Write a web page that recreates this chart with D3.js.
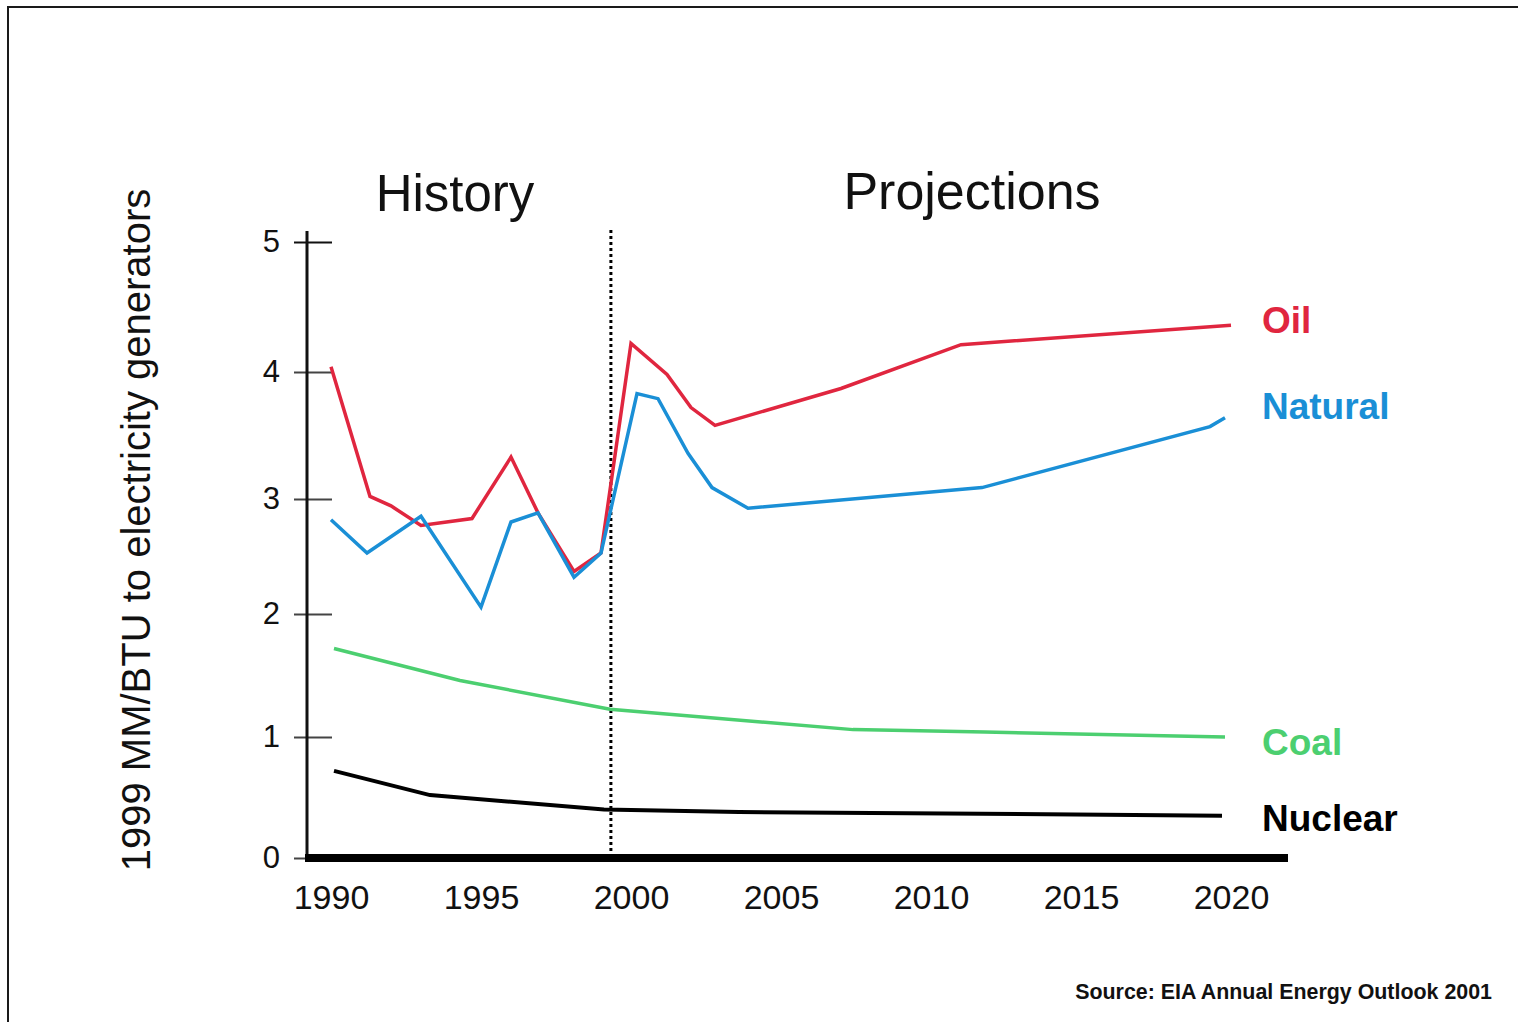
<!DOCTYPE html>
<html>
<head>
<meta charset="utf-8">
<script src="https://cdn.jsdelivr.net/npm/d3@7"></script>
<style>
  html, body { margin: 0; padding: 0; background: #fff; }
  svg { display: block; font-family: "Liberation Sans", Arial, Helvetica, sans-serif; }
</style>
</head>
<body>
<svg id="chart" width="1518" height="1022"></svg>
<script>
// Fuel prices to electricity generators, 1999 dollars per million BTU
const oilYears     = [1990, 1991.3, 1992, 1993, 1994.7, 1996, 1996.9, 1998.1, 1999, 2000, 2001.2, 2002, 2002.8, 2007, 2011, 2020];
const oilValues    = [4.04, 3.02, 2.94, 2.77, 2.83, 3.33, 2.88, 2.37, 2.53, 4.22, 3.98, 3.72, 3.58, 3.87, 4.21, 4.36];

const gasYears     = [1990, 1991.2, 1993, 1995, 1996, 1996.9, 1998.1, 1999, 2000.2, 2000.9, 2001.9, 2002.7, 2003.9, 2011.7, 2019.3, 2019.8];
const gasValues    = [2.82, 2.53, 2.85, 2.06, 2.80, 2.88, 2.32, 2.53, 3.83, 3.79, 3.36, 3.09, 2.92, 3.09, 3.57, 3.64];

const coalYears    = [1990.1, 1994.3, 1999.3, 2007.4, 2011.8, 2019.8];
const coalValues   = [1.72, 1.46, 1.225, 1.06, 1.04, 1.00];

const nuclearYears = [1990.1, 1993.3, 1999.1, 2003.6, 2019.7];
const nuclearValues= [0.72, 0.52, 0.40, 0.38, 0.35];

const seriesNames  = ["Oil", "Natural", "Coal", "Nuclear"];
const seriesColors = ["#e0263f", "#1a8fd6", "#4ccf70", "#000000"];

const yTickValues  = [0, 1, 2, 3, 4, 5];
const xTickValues  = [1990, 1995, 2000, 2005, 2010, 2015, 2020];
const dividerYear  = 1999.33;   // boundary between history and projections
const sectionTitles = ["History", "Projections"];
const yTitle = "1999 MM/BTU to electricity generators";
const sourceNote = "Source: EIA Annual Energy Outlook 2001";

const series = [
  { name: seriesNames[0], color: seriesColors[0], pts: d3.zip(oilYears, oilValues), width: 3.5 },
  { name: seriesNames[1], color: seriesColors[1], pts: d3.zip(gasYears, gasValues), width: 3.5 },
  { name: seriesNames[2], color: seriesColors[2], pts: d3.zip(coalYears, coalValues), width: 3.5 },
  { name: seriesNames[3], color: seriesColors[3], pts: d3.zip(nuclearYears, nuclearValues), width: 4 }
];

const svg = d3.select("#chart");

// frame (top and left edges)
svg.append("path")
  .attr("d", "M8,1022 V7 H1518")
  .attr("fill", "none").attr("stroke", "#1a1a1a").attr("stroke-width", 2);

const axisX = 307;   // position of the vertical axis
const x = d3.scaleLinear().domain([1990, 2020]).range([331, 1231]);
// the printed value axis is spaced slightly unevenly; follow its tick positions
const y = d3.scaleLinear().domain(yTickValues).range([858, 737, 614, 499, 372, 242]);

// section titles
svg.append("text").attr("x", 455).attr("y", 211)
  .attr("text-anchor", "middle").attr("font-size", 51).attr("fill", "#111")
  .text(sectionTitles[0]);
svg.append("text").attr("x", 972).attr("y", 209)
  .attr("text-anchor", "middle").attr("font-size", 52).attr("fill", "#111")
  .text(sectionTitles[1]);

// y axis title
svg.append("text")
  .attr("transform", "translate(150,530) rotate(-90)")
  .attr("text-anchor", "middle").attr("font-size", 40).attr("fill", "#111")
  .text(yTitle);

// y axis
const yAxis = svg.append("g").attr("transform", `translate(${axisX},0)`)
  .call(d3.axisLeft(y).tickValues(yTickValues).tickSize(0).tickPadding(27).tickFormat(d3.format("d")));
yAxis.select(".domain").remove();
yAxis.selectAll(".tick text").attr("font-size", 31).attr("fill", "#111")
  .attr("font-family", "\"Liberation Sans\", Arial, sans-serif");
yAxis.selectAll(".tick").append("line")
  .attr("x1", -13).attr("x2", 25)
  .attr("stroke", d => d === 5 ? "#111" : "#444").attr("stroke-width", 2);
yAxis.append("line")
  .attr("x1", 0).attr("x2", 0).attr("y1", y(5) - 11).attr("y2", y(0))
  .attr("stroke", "#111").attr("stroke-width", 3);

// x axis labels
const xAxis = svg.append("g").attr("transform", `translate(0,${y(0)})`)
  .call(d3.axisBottom(x).tickValues(xTickValues).tickSize(0).tickPadding(27).tickFormat(d3.format("d")));
xAxis.select(".domain").remove();
xAxis.selectAll(".tick text").attr("font-size", 34).attr("fill", "#111")
  .attr("font-family", "\"Liberation Sans\", Arial, sans-serif");

// divider between history and projections
svg.append("line")
  .attr("x1", x(dividerYear)).attr("x2", x(dividerYear))
  .attr("y1", y(5) - 12).attr("y2", y(0) - 4)
  .attr("stroke", "#000").attr("stroke-width", 3).attr("stroke-dasharray", "3,3");

// series lines
const line = d3.line().x(d => x(d[0])).y(d => y(d[1]));
svg.append("g").selectAll("path").data(series).join("path")
  .attr("d", d => line(d.pts))
  .attr("fill", "none")
  .attr("stroke", d => d.color)
  .attr("stroke-width", d => d.width)
  .attr("stroke-linejoin", "miter");

// thick baseline
svg.append("line")
  .attr("x1", axisX - 2).attr("x2", 1288)
  .attr("y1", y(0)).attr("y2", y(0))
  .attr("stroke", "#000").attr("stroke-width", 8);

// series labels
const labelBaselines = [333, 419, 755, 831];
svg.append("g").selectAll("text").data(series).join("text")
  .attr("x", 1262)
  .attr("y", (d, i) => labelBaselines[i])
  .attr("font-size", 37).attr("font-weight", "bold")
  .attr("fill", d => d.color)
  .text(d => d.name);

// source note
svg.append("text").attr("x", 1492).attr("y", 999)
  .attr("text-anchor", "end").attr("font-size", 21.4).attr("font-weight", "bold").attr("fill", "#111")
  .text(sourceNote);
</script>
</body>
</html>
